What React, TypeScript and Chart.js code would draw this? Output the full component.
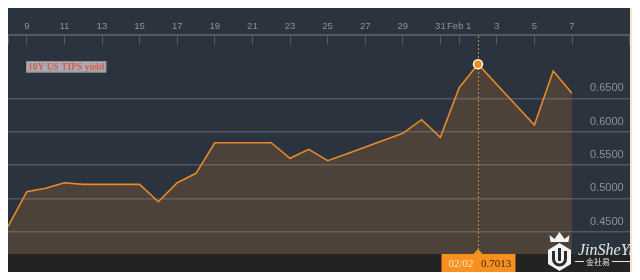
import React, { useEffect, useRef } from 'react';
import { Chart, registerables } from 'chart.js';

Chart.register(...registerables);

// ---- data ----
const dates = ['01/08', '01/09', '01/10', '01/11', '01/12', '01/15', '01/16', '01/17', '01/18', '01/19', '01/22', '01/23', '01/24', '01/25', '01/26', '01/29', '01/30', '01/31', '02/01', '02/02', '02/05', '02/06', '02/07'];
const yields = [0.4574, 0.5099, 0.515, 0.5234, 0.521, 0.521, 0.4949, 0.5234, 0.5375, 0.5834, 0.5834, 0.56, 0.5735, 0.5564, 0.5666, 0.5975, 0.618, 0.5915, 0.666, 0.7013, 0.61, 0.691, 0.6575];
const xTickDays = [9, 11, 13, 15, 17, 19, 21, 23, 25, 27, 29, 31, 32, 34, 36, 38];
const xTickLabels = ['9', '11', '13', '15', '17', '19', '21', '23', '25', '27', '29', '31', 'Feb 1', '3', '5', '7'];
const yTicks = [0.45, 0.5, 0.55, 0.6, 0.65];
const seriesName = '10Y US TIPS yield';
const highlightDate = '02/02';
const brandName = 'JinSheYi';
const brandCn = '金社易';

function dayNumber(d: string): number {
  const [m, dd] = d.split('/').map(Number);
  return m === 1 ? dd : 31 + dd;
}

const PANEL = '#2b333f';
const BAND = '#242323';
const ORANGE = '#f28c22';
const AXIS = '#535a64';

const decorPlugin = {
  id: 'decor',
  beforeDraw(chart: any) {
    const { ctx, width, height, chartArea } = chart;
    ctx.save();
    ctx.fillStyle = PANEL;
    ctx.fillRect(0, 0, width, height);
    ctx.fillStyle = BAND;
    ctx.fillRect(0, chartArea.bottom, width, height - chartArea.bottom);
    ctx.restore();
  },
  beforeDatasetsDraw(chart: any) {
    const { ctx, chartArea, scales } = chart;
    const idx = dates.indexOf(highlightDate);
    const x = Math.round(scales.x.getPixelForValue(dayNumber(dates[idx]))) + 0.5;
    ctx.save();
    ctx.strokeStyle = '#c08a3a';
    ctx.lineWidth = 1;
    ctx.setLineDash([2, 2]);
    ctx.beginPath();
    ctx.moveTo(x, chartArea.top + 1);
    ctx.lineTo(x, chartArea.bottom - 4);
    ctx.stroke();
    ctx.restore();
  },
  afterDraw(chart: any) {
    const { ctx, chartArea, scales, width } = chart;
    ctx.save();
    // extend top axis line across the value-axis area, with end ticks
    ctx.fillStyle = AXIS;
    ctx.fillRect(chartArea.right, chartArea.top - 1, width - chartArea.right, 2);
    ctx.fillRect(0, chartArea.top, 1, 10);
    ctx.fillRect(width - 1, chartArea.top, 1, 10);

    // series label
    ctx.font = "bold 9.5px 'Liberation Serif', serif";
    const tw = ctx.measureText(seriesName).width;
    const lx = chartArea.left + 18;
    const ly = 55;
    ctx.fillStyle = '#a9adb3';
    ctx.fillRect(lx, ly, tw + 4, 11.5);
    ctx.strokeStyle = '#8d9298';
    ctx.lineWidth = 1;
    ctx.strokeRect(lx + 0.5, ly + 0.5, tw + 3, 10.5);
    ctx.fillStyle = '#e0574b';
    ctx.textBaseline = 'middle';
    ctx.textAlign = 'left';
    ctx.fillText(seriesName, lx + 2, ly + 6.2);

    // crosshair label box
    const idx = dates.indexOf(highlightDate);
    const cx = scales.x.getPixelForValue(dayNumber(dates[idx]));
    const top = chartArea.bottom;
    const bx = cx - 36.5;
    ctx.fillStyle = '#f7901e';
    ctx.fillRect(bx, top, 74, 18);
    ctx.beginPath();
    ctx.moveTo(cx - 5, top + 0.5);
    ctx.lineTo(cx, top - 5);
    ctx.lineTo(cx + 5, top + 0.5);
    ctx.closePath();
    ctx.fill();
    ctx.font = "11px 'Liberation Serif', serif";
    ctx.fillStyle = '#fde3c2';
    ctx.fillText(dates[idx], bx + 7, top + 10.5);
    ctx.fillStyle = '#3a2a1a';
    ctx.fillText(yields[idx].toFixed(4), bx + 39.5, top + 10.5);

    // logo
    const hx = 551.5;
    const hy = 251;
    ctx.fillStyle = '#f2f2f2';
    ctx.beginPath();
    ctx.moveTo(hx, hy - 14);
    ctx.lineTo(hx + 11.5, hy - 7);
    ctx.lineTo(hx + 11.5, hy + 7);
    ctx.lineTo(hx, hy + 14);
    ctx.lineTo(hx - 11.5, hy + 7);
    ctx.lineTo(hx - 11.5, hy - 7);
    ctx.closePath();
    ctx.fill();
    ctx.strokeStyle = '#2a2a2a';
    ctx.lineWidth = 3;
    ctx.beginPath();
    ctx.moveTo(hx - 6, hy - 6);
    ctx.lineTo(hx - 6, hy + 2);
    ctx.arc(hx, hy + 2, 6, Math.PI, 0, true);
    ctx.lineTo(hx + 6, hy - 6);
    ctx.stroke();
    ctx.beginPath();
    ctx.moveTo(hx, hy - 9);
    ctx.lineTo(hx, hy + 4);
    ctx.stroke();
    // crown
    ctx.fillStyle = '#f2f2f2';
    ctx.beginPath();
    ctx.moveTo(hx - 9, hy - 15);
    ctx.lineTo(hx - 10, hy - 22);
    ctx.lineTo(hx - 5, hy - 18);
    ctx.lineTo(hx, hy - 25);
    ctx.lineTo(hx + 5, hy - 18);
    ctx.lineTo(hx + 10, hy - 22);
    ctx.lineTo(hx + 9, hy - 15);
    ctx.closePath();
    ctx.fill();
    // brand text
    ctx.font = "italic 16px 'Liberation Serif', serif";
    ctx.fillStyle = '#e6e6e6';
    ctx.textAlign = 'left';
    ctx.fillText(brandName, 570, 245);
    ctx.font = "8px 'Noto Sans CJK SC', sans-serif";
    const cw = ctx.measureText(brandCn).width;
    ctx.fillText(brandCn, 578, 255.5);
    ctx.fillRect(567, 255, 9, 1);
    ctx.fillRect(580 + cw, 255, Math.max(0, width - 580 - cw), 1);
    ctx.restore();
  },
};

export default function App() {
  const canvasRef = useRef<HTMLCanvasElement | null>(null);

  useEffect(() => {
    if (!canvasRef.current) return;
    Chart.defaults.font.family = "'Liberation Sans', Arial, sans-serif";
    const points = dates.map((d, i) => ({ x: dayNumber(d), y: yields[i] }));
    const chart = new Chart(canvasRef.current, {
      type: 'line',
      data: {
        datasets: [
          {
            label: seriesName,
            data: points,
            borderColor: '#e8892a',
            borderWidth: 1.6,
            backgroundColor: 'rgba(247,147,30,0.16)',
            fill: 'start',
            tension: 0,
            pointRadius: (c: any) => (dates[c.dataIndex] === highlightDate ? 4.5 : 0),
            pointHoverRadius: 0,
            pointBackgroundColor: ORANGE,
            pointBorderColor: '#ffffff',
            pointBorderWidth: 1.5,
          },
        ],
      },
      options: {
        animation: false,
        responsive: false,
        maintainAspectRatio: false,
        layout: { padding: { left: 0, right: 0, top: 0, bottom: 18 } },
        plugins: {
          legend: { display: false },
          tooltip: { enabled: false },
          title: { display: false },
        },
        events: [],
        scales: {
          x: {
            type: 'linear',
            position: 'top',
            min: dayNumber(dates[0]),
            max: dayNumber(dates[dates.length - 1]),
            afterBuildTicks: (s: any) => {
              s.ticks = xTickDays.map((v) => ({ value: v }));
            },
            afterFit: (s: any) => {
              s.height = 29;
            },
            grid: {
              drawOnChartArea: false,
              drawTicks: true,
              tickLength: -10,
              tickColor: AXIS,
              tickWidth: 1,
            },
            border: { display: true, color: AXIS, width: 2 },
            ticks: {
              autoSkip: false,
              maxRotation: 0,
              minRotation: 0,
              padding: 12.5,
              color: '#8b9199',
              font: { size: 9.5 },
              callback: (v: any) => {
                const i = xTickDays.indexOf(Number(v));
                return i >= 0 ? xTickLabels[i] : '';
              },
            },
          },
          y: {
            type: 'linear',
            position: 'right',
            min: 0.4165,
            max: 0.745,
            afterBuildTicks: (s: any) => {
              s.ticks = yTicks.map((v) => ({ value: v }));
            },
            afterFit: (s: any) => {
              s.width = 58;
            },
            grid: {
              color: '#515862',
              lineWidth: 1.5,
              drawTicks: true,
              tickLength: 58,
            },
            border: { display: false },
            ticks: {
              padding: -40,
              labelOffset: -10,
              color: '#8b9199',
              font: { size: 11 },
              callback: (v: any) => Number(v).toFixed(4),
            },
          },
        },
      },
      plugins: [decorPlugin],
    } as any);
    return () => chart.destroy();
  }, []);

  return (
    <div
      style={{
        position: 'relative',
        width: 640,
        height: 280,
        margin: -8,
        background: '#fbe3c5',
      }}
    >
      <canvas
        ref={canvasRef}
        width={622}
        height={266}
        style={{ position: 'absolute', left: 8, top: 6, width: 622, height: 266 }}
      />
    </div>
  );
}
